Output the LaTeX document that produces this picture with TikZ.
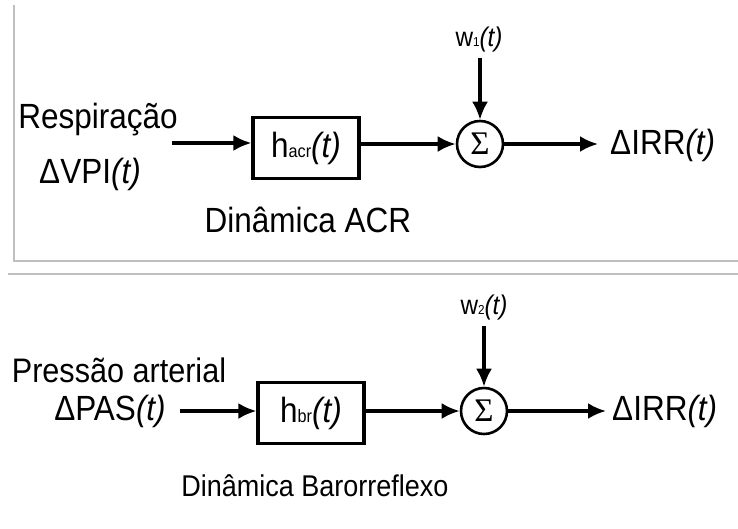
\documentclass[tikz,border=0pt]{standalone}
\usepackage{fontspec}
\setmainfont{Liberation Sans}[FakeStretch=0.9]
\newfontfamily\sigmafont{Liberation Serif}
\usetikzlibrary{arrows.meta}
\begin{document}
\begin{tikzpicture}[x=1pt,y=-1pt,
  lbl/.style={inner sep=0pt,font=\fontsize{35}{40}\selectfont},
  captext/.style={inner sep=0pt,font=\fontsize{30}{34}\selectfont},
  small/.style={inner sep=0pt,font=\fontsize{27}{30}\selectfont},
  blockbox/.style={draw,line width=3.2pt,minimum width=106pt,minimum height=61pt,inner sep=0pt,font=\fontsize{35}{40}\selectfont},
  sumnode/.style={draw,circle,line width=2.6pt,minimum size=46pt,inner sep=0pt,font=\sigmafont\fontsize{33}{33}\selectfont},
  conn/.style={line width=3.2pt,-{Latex[length=18pt,width=16pt]}},
  frame/.style={draw=black!25,line width=1.4pt}]
\useasboundingbox (0,0) rectangle (738,528);
% frame lines
\draw[frame] (14,5) -- (14,261) -- (738,261);
\draw[frame] (8,274) -- (738,274);
% top diagram
\node[lbl] (resp) at (98,120) {Respiração};
\node[lbl] (dvpi) at (90,174) {ΔVPI\textit{(t)}};
\coordinate (in1) at (172,143);
\node[blockbox] (box1) at (306,148) {h{\fontsize{18}{20}\selectfont acr}\textit{(t)}};
\node[sumnode] (sum1) at (480,144) {Σ};
\node[small] (w1) at (479,40) {w{\fontsize{13}{14}\selectfont 1}\textit{(t)}};
\coordinate (w1top) at (480,58);
\coordinate (out1) at (598,144);
\node[lbl,anchor=west] (irr1) at (610,145) {ΔIRR\textit{(t)}};
\node[lbl] (acr) at (308,220) {Dinâmica ACR};
\draw[conn] (in1) -- (in1 -| box1.west);
\draw[conn] (box1.east |- sum1) -- (sum1.west);
\draw[conn] (w1top) -- (sum1.north);
\draw[conn] (sum1.east) -- (out1);
% bottom diagram
\node[lbl,font=\fontsize{34}{38}\selectfont] (press) at (119,370) {Pressão arterial};
\node[lbl] (dpas) at (110,411) {ΔPAS\textit{(t)}};
\coordinate (in2) at (180,411);
\node[blockbox] (box2) at (311,413) {h{\fontsize{18}{20}\selectfont br}\textit{(t)}};
\node[sumnode] (sum2) at (484,411) {Σ};
\node[small] (w2) at (484,308) {w{\fontsize{13}{14}\selectfont 2}\textit{(t)}};
\coordinate (w2top) at (484,326);
\coordinate (out2) at (606,411);
\node[lbl,anchor=west] (irr2) at (612,411) {ΔIRR\textit{(t)}};
\node[captext] (baro) at (315,486) {Dinâmica Barorreflexo};
\draw[conn] (in2) -- (in2 -| box2.west);
\draw[conn] (box2.east |- sum2) -- (sum2.west);
\draw[conn] (w2top) -- (sum2.north);
\draw[conn] (sum2.east) -- (out2);
\end{tikzpicture}
\end{document}
